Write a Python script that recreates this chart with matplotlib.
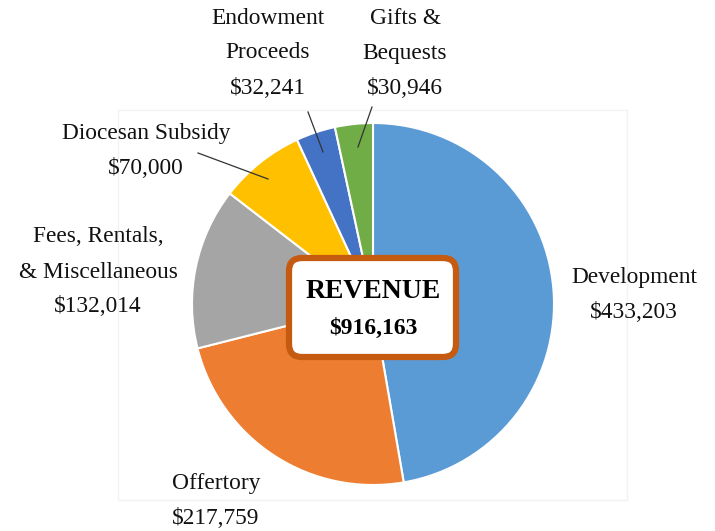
import matplotlib.pyplot as plt
from matplotlib.patches import FancyBboxPatch, Rectangle

# revenue breakdown (clockwise from 12 o'clock)
categories = ['Development', 'Offertory', 'Fees, Rentals,\n& Miscellaneous',
              'Diocesan Subsidy', 'Endowment\nProceeds', 'Gifts &\nBequests']
values = [433203, 217759, 132014, 70000, 32241, 30946]
colors = ['#5B9BD5', '#ED7D31', '#A5A5A5', '#FFC000', '#4472C4', '#70AD47']
total_label = 'REVENUE'

W, H = 715, 531
plt.rcParams['font.family'] = ['Liberation Serif', 'DejaVu Serif']

fig = plt.figure(figsize=(W / 100, H / 100), dpi=100)
ax = fig.add_axes([0, 0, 1, 1])

# faint plot-area frame
ax.add_patch(Rectangle((118, H - 500), 509, 390, fill=False,
                       edgecolor='#F3F3F3', linewidth=1, zorder=0))

ax.pie(values, colors=colors, startangle=90, counterclock=False,
       center=(373, H - 304), radius=181,
       wedgeprops=dict(edgecolor='white', linewidth=1.5))

ax.set_xlim(0, W)
ax.set_ylim(0, H)
ax.set_aspect('auto')
ax.axis('off')

# label anchor (x, y of first line) in pixels from top-left
label_pos = [(634, 278), (216, 483), (98, 237), (146, 133), (268, 18), (405, 18)]
line_step = 35
for name, v, (x, y) in zip(categories, values, label_pos):
    lines = name.split('\n') + [f'${v:,}']
    for i, t in enumerate(lines):
        ax.text(x, H - (y + i * line_step), t, ha='center', va='center',
                fontsize=16.8, color='#111111')

# leader lines
leaders = [((198, 153), (268, 179)), ((308, 112), (323, 152)), ((372, 107), (358, 147))]
for (x0, y0), (x1, y1) in leaders:
    ax.plot([x0, x1], [H - y0, H - y1], color='#333333', linewidth=0.9)

# center box
box = FancyBboxPatch((289, H - 357), 167, 99, boxstyle='round,pad=0,rounding_size=13',
                     facecolor='white', edgecolor='#C55A11', linewidth=4.5, zorder=5)
ax.add_patch(box)
ax.text(373, H - 292, total_label, ha='center', va='center', fontsize=20,
        fontweight='bold', color='black', zorder=6)
ax.text(373, H - 328, f'${sum(values):,}', ha='center', va='center', fontsize=17,
        fontweight='bold', color='black', zorder=6)

fig.savefig('out.png', dpi=100)
